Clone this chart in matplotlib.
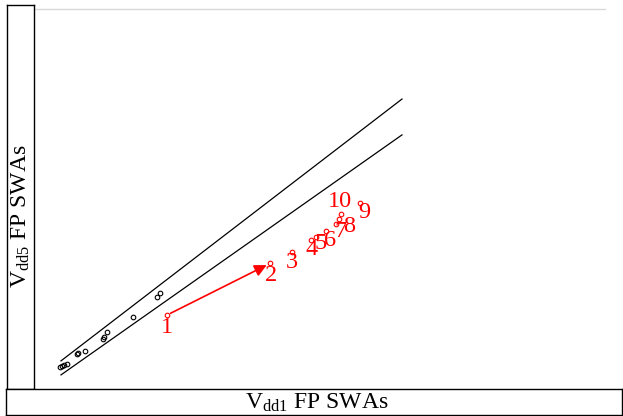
import matplotlib
matplotlib.use("Agg")
import matplotlib.pyplot as plt

plt.rcParams["font.family"] = ["Liberation Serif", "DejaVu Serif"]
plt.rcParams["mathtext.fontset"] = "custom"
plt.rcParams["mathtext.rm"] = "Liberation Serif"
plt.rcParams["mathtext.it"] = "Liberation Serif:italic"

# Reference band: lines y = x * (1 +/- band)
band = 0.0435
line_x = [39.1, 100.0]

# Per-run SWA counts (black): Vdd1 vs Vdd5
base_x = [39.0, 39.3, 39.6, 40.1, 42.0, 42.2, 43.3, 46.6, 46.7, 47.3, 51.9, 56.2, 56.7]
base_y = [39.3, 39.6, 39.7, 40.1, 42.4, 42.7, 43.1, 46.1, 46.7, 47.7, 51.5, 56.4, 57.2]

# Numbered runs (red)
run_ids = ["1", "2", "3", "4", "5", "6", "7", "8", "9", "10"]
run_x = [58.0, 76.5, 80.3, 83.7, 84.6, 86.4, 88.3, 88.8, 92.5, 89.1]
run_y = [51.9, 64.5, 67.3, 70.2, 70.8, 72.4, 74.0, 75.2, 79.2, 76.5]
# label offsets (pixels) from each marker
label_dx = [0, 1, 0, 0.5, 5, 4, 4.3, 10, 4, -1]
label_dy = [-12, -12, -11, -10, -6, -10, -7.4, -7.7, -10, 12]

W, H = 623, 416
fig = plt.figure(figsize=(W / 100, H / 100), dpi=100)


def box(x0, y0, x1, y1):
    return [x0 / W, 1 - y1 / H, (x1 - x0) / W, (y1 - y0) / H]


ax = fig.add_axes(box(35, 9, 605, 388))
ax.set_xlim(34.46, 136.25)
ax.set_ylim(34.22, 126.2)
for s in ("left", "right", "bottom"):
    ax.spines[s].set_visible(False)
ax.spines["top"].set_color("#d9d9d9")
ax.spines["top"].set_linewidth(1.0)
ax.set_xticks([])
ax.set_yticks([])

ax.plot(line_x, [v * (1 + band) for v in line_x], color="black", lw=0.9)
ax.plot(line_x, [v * (1 - band) for v in line_x], color="black", lw=0.9)

ax.plot(base_x, base_y, linestyle="none", marker="o", ms=3.3,
        mfc="none", mec="black", mew=0.8)
ax.plot(run_x, run_y, linestyle="none", marker="o", ms=3.3,
        mfc="none", mec="red", mew=0.8)

ax.annotate("", xy=(run_x[1], run_y[1]), xytext=(run_x[0], run_y[0]),
            arrowprops=dict(arrowstyle="-|>", color="red", lw=1.2,
                            mutation_scale=18, shrinkA=3, shrinkB=3))

for lab, x, y, dx, dy in zip(run_ids, run_x, run_y, label_dx, label_dy):
    ax.annotate(lab, xy=(x, y), xytext=(dx, dy), textcoords="offset pixels",
                ha="center", va="center", color="red", fontsize=17.5)

# y-axis label panel
axl = fig.add_axes(box(7, 5, 34, 389))
axl.set_xticks([])
axl.set_yticks([])
for s in axl.spines.values():
    s.set_linewidth(1.0)
axl.text(0.5, 0.45, r"$\mathrm{V_{dd5}}$ FP SWAs", rotation=90,
         ha="center", va="center", fontsize=17, transform=axl.transAxes)

# x-axis label panel
axb = fig.add_axes(box(6, 389, 622, 415))
axb.set_xticks([])
axb.set_yticks([])
for s in axb.spines.values():
    s.set_linewidth(1.0)
axb.text(0.505, 0.45, r"$\mathrm{V_{dd1}}$ FP SWAs",
         ha="center", va="center", fontsize=17, transform=axb.transAxes)

fig.savefig("out.png", dpi=100)
